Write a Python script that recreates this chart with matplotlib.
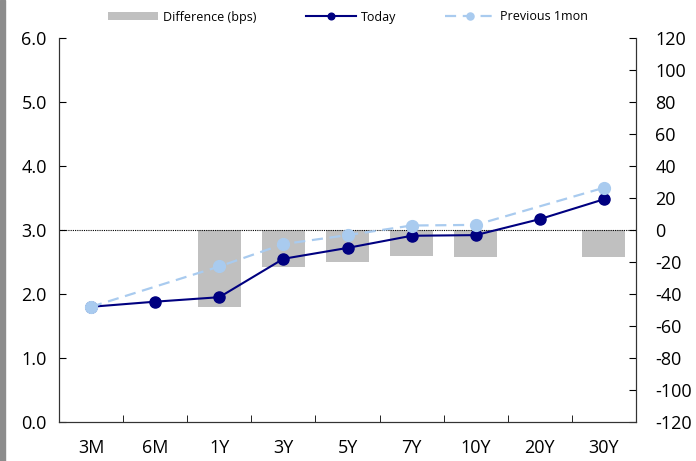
import numpy as np
import matplotlib
matplotlib.use('Agg')
import matplotlib.pyplot as plt
from matplotlib.patches import Rectangle

plt.rcParams['font.family'] = ['Open Sans', 'DejaVu Sans']
plt.rcParams['axes.unicode_minus'] = False

tenors = ['3M', '6M', '1Y', '3Y', '5Y', '7Y', '10Y', '20Y', '30Y']
today = [1.80, 1.88, 1.95, 2.55, 2.72, 2.91, 2.92, 3.17, 3.48]
prev_1mon = [1.80, np.nan, 2.43, 2.78, 2.92, 3.07, 3.08, np.nan, 3.66]
diff_bps = [0, np.nan, -48, -23, -20, -16, -17, np.nan, -17]

fig = plt.figure(figsize=(6.96, 4.61), dpi=100)
ax = fig.add_axes([59 / 696, 1 - 422 / 461, 577 / 696, 384 / 461])
ax2 = ax.twinx()

# left grey strip
fig.patches.append(Rectangle((0, 0), 5 / 696, 1, transform=fig.transFigure,
                             color='#8c8c8c', zorder=0))

x = np.arange(len(tenors))

# difference bars (right axis)
ax2.bar(x, diff_bps, width=0.67, color='#c0c0c0', label='Difference (bps)', zorder=1)
ax2.axhline(0, color='black', linestyle=(0, (1, 1)), linewidth=0.8, zorder=2)
ax2.set_ylim(-120, 120)
ax2.set_yticks(np.arange(-120, 121, 20))

# put the line axis on top of the bars
ax.set_zorder(ax2.get_zorder() + 1)
ax.patch.set_visible(False)

prev = np.array(prev_1mon)
ok = ~np.isnan(prev)
ax.plot(x, today, color='#000080', linewidth=1.5, marker='o', markersize=8,
        label='Today', zorder=3)
ax.plot(x[ok], prev[ok], color='#a9cbef', linestyle=(0, (5, 3)), linewidth=1.6,
        marker='o', markersize=8.5, label='Previous 1mon', zorder=4)

ax.set_ylim(0, 6)
ax.set_yticks(np.arange(0, 6.01, 1.0))
ax.set_yticklabels([f'{v:.1f}' for v in np.arange(0, 6.01, 1.0)])
ax.set_xlim(-0.5, len(tenors) - 0.5)
ax.set_xticks(x)
ax.set_xticklabels(tenors)
ax.set_xticks(np.arange(-0.5, len(tenors), 1.0), minor=True)
ax.tick_params(axis='x', which='major', length=0, pad=12, labelsize=13)
ax.tick_params(axis='x', which='minor', direction='in', length=5)
ax.tick_params(axis='y', direction='in', length=5, pad=27, labelsize=13)
ax2.tick_params(axis='y', direction='in', length=5, pad=14, labelsize=13)
for t in ax.get_yticklabels():
    t.set_horizontalalignment('left')

for a in (ax, ax2):
    a.spines['top'].set_visible(False)
    for s in ('left', 'right', 'bottom'):
        a.spines[s].set_color('#333333')

h2, l2 = ax2.get_legend_handles_labels()
h1, l1 = ax.get_legend_handles_labels()
handles = [h2[0], h1[0], h1[1]]
labels = [l2[0], l1[0], l1[1]]
fig.legend(handles, labels, loc='center', bbox_to_anchor=(0.5, 1 - 17 / 461),
           ncol=3, frameon=False, fontsize=9, handlelength=4.0, columnspacing=3.9,
           handletextpad=0.4, markerscale=0.6)

fig.savefig('out.png', dpi=100)
